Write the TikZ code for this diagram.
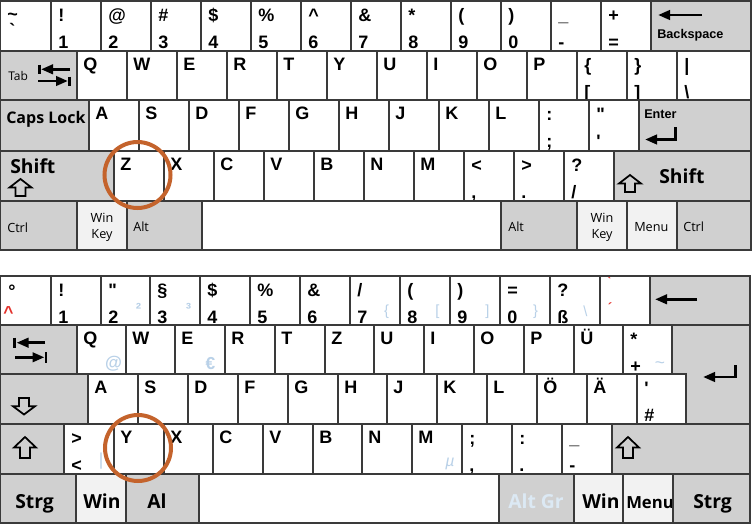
\documentclass[tikz,border=0pt]{standalone}
\usepackage{fontspec}
\setmainfont{Liberation Sans}
\newfontfamily\osans{Open Sans}
\usetikzlibrary{arrows.meta}
\definecolor{kline}{HTML}{3A3A3A}
\definecolor{kgray}{HTML}{D0D0D0}
\definecolor{klight}{HTML}{F2F2F2}
\definecolor{ring}{RGB}{196,99,44}
\definecolor{altblue}{HTML}{B9D1E8}
\definecolor{altgrtxt}{HTML}{DCE9F4}
\definecolor{deadred}{HTML}{E3312B}
\newcommand\KT[7]{\draw[kw] (#2,#4) rectangle (#3,#5);
  \node[ch] (#1a) at (#2+7,#4+20) {#6};
  \node[ch] (#1b) at (#2+7,#4+47) {#7};}
\newcommand\KL[6]{\draw[kw] (#2,#4) rectangle (#3,#5);
  \node[ch] (#1) at (#2+6,#4+19.5) {#6};}
\newcommand\UpArr[4]{% cx ytop ybot halfwidth
  \draw[line width=1.3pt,line join=miter] (#1,#2) -- (#1+#4,#2+0.5*#3-0.5*#2) -- (#1+5,#2+0.5*#3-0.5*#2) -- (#1+5,#3) -- (#1-5,#3) -- (#1-5,#2+0.5*#3-0.5*#2) -- (#1-#4,#2+0.5*#3-0.5*#2) -- cycle;}
\newcommand\DnArr[4]{% cx ytop ybot halfwidth
  \draw[line width=1.3pt,line join=miter] (#1,#3) -- (#1+#4,#2+0.5*#3-0.5*#2) -- (#1+5,#2+0.5*#3-0.5*#2) -- (#1+5,#2) -- (#1-5,#2) -- (#1-5,#2+0.5*#3-0.5*#2) -- (#1-#4,#2+0.5*#3-0.5*#2) -- cycle;}
\begin{document}
\begin{tikzpicture}[x=0.75pt,y=-0.75pt,
  kw/.style={draw=kline,fill=white,line width=0.8pt},
  kg/.style={draw=kline,fill=kgray,line width=0.8pt},
  kl/.style={draw=kline,fill=klight,line width=0.8pt},
  ch/.style={anchor=base west,inner sep=0pt,font=\bfseries\fontsize{13.5}{13.5}\selectfont},
  osb/.style={anchor=base west,inner sep=0pt,font=\osans\bfseries\fontsize{#1}{#1}\selectfont},
  osr/.style={anchor=base west,inner sep=0pt,font=\osans\fontsize{#1}{#1}\selectfont},
  osrc/.style={anchor=base,inner sep=0pt,font=\osans\fontsize{#1}{#1}\selectfont},
  arb/.style={anchor=base west,inner sep=0pt,font=\bfseries\fontsize{9.5}{9.5}\selectfont},
  alt/.style={text=altblue,inner sep=0pt,font=\bfseries\fontsize{12}{12}\selectfont},
  altl/.style={text=altblue,inner sep=0pt,font=\fontsize{11}{11}\selectfont},
  red/.style={text=deadred,inner sep=0pt,font=\bfseries\fontsize{#1}{#1}\selectfont},
  arr/.style={line width=2.2pt,line join=miter,-{Triangle[length=9pt,width=7pt]}},
  barl/.style={line width=2.2pt},
  ringst/.style={draw=ring,line width=3pt}]
\useasboundingbox (0,0) rectangle (753,525);
% ================= TOP KEYBOARD (US) =================
% row 1
\draw[kw] (0,1) rectangle (51,51);
\node[ch] (t0a) at (7,20) {\textasciitilde};
\node[ch] (t0b) at (9,36) {\textasciigrave};
\KT{t1}{51}{101}{1}{51}{!}{1}
\KT{t2}{101}{151}{1}{51}{@}{2}
\KT{t3}{151}{201}{1}{51}{\#}{3}
\KT{t4}{201}{251}{1}{51}{\$}{4}
\KT{t5}{251}{301}{1}{51}{\%}{5}
\KT{t6}{301}{351}{1}{51}{\textasciicircum}{6}
\KT{t7}{351}{401}{1}{51}{\&}{7}
\KT{t8}{401}{451}{1}{51}{*}{8}
\KT{t9}{451}{501}{1}{51}{(}{9}
\KT{t10}{501}{551}{1}{51}{)}{0}
\KT{t11}{551}{601}{1}{51}{\_}{-}
\KT{t12}{601}{651}{1}{51}{+}{=}
\draw[kg] (651,1) rectangle (751,51);
\coordinate (tbsA) at (702,15);
\coordinate (tbsB) at (658,15);
\draw[arr] (tbsA) -- (tbsB);
\node[arb] (tbs) at (657,38) {Backspace};
% row 2
\draw[kg] (0,51) rectangle (77,100);
\node[osr=9] (ttab) at (8,80) {Tab};
\coordinate (ttA) at (70,69.3); \coordinate (ttB) at (41,69.3);
\draw[arr] (ttA) -- (ttB);
\draw[barl] (39.5,64.5) -- (39.5,74);
\coordinate (ttC) at (38,81); \coordinate (ttD) at (68,81);
\draw[arr] (ttC) -- (ttD);
\draw[barl] (69.5,76.5) -- (69.5,86);
\foreach \x/\l [count=\i] in {77/Q,127/W,177/E,227/R,277/T,327/Y,377/U,427/I,477/O,527/P}
  {\KL{tq\i}{\x}{\x+50}{51}{100}{\l}}
\KT{t13}{577}{627}{51}{100}{\{}{[}
\KT{t14}{627}{677}{51}{100}{\}}{]}
\KT{t15}{677}{751}{51}{100}{\textbar}{\textbackslash}
% row 3
\draw[kg] (0,100) rectangle (89,151);
\node[osb=12] (tcaps) at (6,123) {Caps Lock};
\foreach \x/\l [count=\i] in {89/A,139/S,189/D,239/F,289/G,339/H,389/J,439/K,489/L}
  {\KL{ta\i}{\x}{\x+50}{100}{151}{\l}}
\KT{t16}{539}{589}{100}{151}{:}{;}
\KT{t17}{589}{639}{100}{151}{\textquotedbl}{\textquotesingle}
\draw[kg] (639,100) rectangle (751,151);
\node[arb] (tent) at (644,118) {Enter};
\coordinate (teA) at (675.5,127); \coordinate (teB) at (675.5,139.5); \coordinate (teC) at (645,139.5);
\draw[arr] (teA) -- (teB) -- (teC);
% row 4
\draw[kg] (0,151) rectangle (114,201);
\node[osb=14.5] (tshl) at (10,173) {Shift};
\UpArr{20.5}{179}{196}{11}
\foreach \x/\l [count=\i] in {114/Z,164/X,214/C,264/V,314/B,364/N,414/M}
  {\KL{tz\i}{\x}{\x+50}{151}{201}{\l}}
\KT{t18}{464}{514}{151}{201}{\textless}{,}
\KT{t19}{514}{564}{151}{201}{\textgreater}{.}
\KT{t20}{564}{614}{151}{201}{?}{/}
\draw[kg] (614,151) rectangle (751,201);
\node[osb=14.5] (tshr) at (659,183) {Shift};
\UpArr{630}{175}{192}{11}
% row 5
\draw[kg] (0,201) rectangle (77,250);
\node[osr=9.5] (tctl) at (7,232) {Ctrl};
\draw[kl] (77,201) rectangle (127,250);
\node[osrc=9.5] (twl1) at (102,222) {Win};
\node[osrc=9.5] (twl2) at (102,238) {Key};
\draw[kg] (127,201) rectangle (202,250);
\node[osr=9.5] (talt) at (133,231) {Alt};
\draw[kw] (202,201) rectangle (501,250);
\draw[kg] (501,201) rectangle (577,250);
\node[osr=9.5] (talr) at (508,231) {Alt};
\draw[kl] (577,201) rectangle (627,250);
\node[osrc=9.5] (twr1) at (602,222) {Win};
\node[osrc=9.5] (twr2) at (602,238) {Key};
\draw[kl] (627,201) rectangle (677,250);
\node[osr=9.5] (tmen) at (634,231) {Menu};
\draw[kg] (677,201) rectangle (751,250);
\node[osr=9.5] (tctr) at (683,231) {Ctrl};
\draw[draw=kline,line width=0.8pt] (0,1) rectangle (751,250);
\draw[ringst] (137.5,175) circle[radius=24.75pt];
% ================= BOTTOM KEYBOARD (DE) =================
% row 1
\draw[kw] (0,276) rectangle (51,325);
\node[ch] (b0a) at (8,297) {°};
\node[red=13] (b0b) at (8.5,313) {\textasciicircum};
\KT{b1}{51}{101}{276}{325}{!}{1}
\KT{b2}{101}{150}{276}{325}{\textquotedbl}{2}
\KT{b3}{150}{200}{276}{325}{§}{3}
\KT{b4}{200}{250}{276}{325}{\$}{4}
\KT{b5}{250}{300}{276}{325}{\%}{5}
\KT{b6}{300}{350}{276}{325}{\&}{6}
\KT{b7}{350}{400}{276}{325}{/}{7}
\KT{b8}{400}{450}{276}{325}{(}{8}
\KT{b9}{450}{500}{276}{325}{)}{9}
\KT{b10}{500}{550}{276}{325}{=}{0}
\KT{b11}{550}{600}{276}{325}{?}{ß}
\draw[kw] (600,276) rectangle (650,325);
\node[red=10,anchor=center] (b12a) at (609,282) {\textasciigrave};
\node[red=10,anchor=center] (b12b) at (610,307.5) {´};
\node[alt] (x2) at (138.5,309) {²};
\node[alt] (x3) at (188.5,309) {³};
\node[altl] (x7) at (386.5,311.5) {\{};
\node[altl] (x8) at (437.5,311.5) {[};
\node[altl] (x9) at (487.5,311.5) {]};
\node[altl] (x10) at (535.5,311.5) {\}};
\node[altl] (x11) at (585.5,311.5) {\textbackslash};
\draw[kg] (650,276) rectangle (750,325);
\coordinate (bbsA) at (697,299.3); \coordinate (bbsB) at (655,299.3);
\draw[arr] (bbsA) -- (bbsB);
% row 2
\draw[kg] (0,325) rectangle (77,374);
\coordinate (btA) at (45,342.7); \coordinate (btB) at (16.5,342.7);
\draw[arr] (btA) -- (btB);
\draw[barl] (14.5,337.5) -- (14.5,348);
\coordinate (btC) at (15,357.3); \coordinate (btD) at (44.5,357.3);
\draw[arr] (btC) -- (btD);
\draw[barl] (46,352) -- (46,362.5);
\foreach \x/\l [count=\i] in {77/Q,126/W,175/E,225/R,275/T,325/Z,374/U,424/I,474/O,524/P,574/Ü}
  {\KL{bq\i}{\x}{\x+50}{325}{374}{\l}}
\KT{b13}{623}{672}{325}{374}{*}{+}
\node[alt,font=\bfseries\fontsize{13}{13}\selectfont] (xat) at (113.5,364) {@};
\node[alt,font=\bfseries\fontsize{13}{13}\selectfont] (xeu) at (210.5,364) {€};
\node[altl,font=\fontsize{13}{13}\selectfont] (xti) at (660,365) {\textasciitilde};
\draw[kg] (672,325) -- (750,325) -- (750,424) -- (686,424) -- (686,374) -- (672,374) -- cycle;
\coordinate (beA) at (735.5,365); \coordinate (beB) at (735.5,377); \coordinate (beC) at (703,377);
\draw[arr] (beA) -- (beB) -- (beC);
% row 3
\draw[kg] (0,374) rectangle (88,424);
\DnArr{24}{398}{414.5}{11}
\foreach \x/\l [count=\i] in {88/A,138/S,188/D,238/F,288/G,338/H,387/J,437/K,487/L,537/Ö,587/Ä}
  {\KL{ba\i}{\x}{\x+50}{374}{424}{\l}}
\KT{b14}{637}{686}{374}{424}{\textquotesingle}{\#}
% row 4
\draw[kg] (0,424) rectangle (64,474);
\UpArr{25}{437}{458}{11}
\KT{b15}{64}{114}{424}{474}{\textgreater}{\textless}
\node[altl,font=\fontsize{13}{13}\selectfont] (xbar) at (101,461.5) {\textbar};
\foreach \x/\l [count=\i] in {114/Y,164/X,213/C,263/V,313/B,362/N,412/M}
  {\KL{by\i}{\x}{\x+50}{424}{474}{\l}}
\node[altl,font=\itshape\fontsize{12}{12}\selectfont] (xmu) at (450,464) {µ};
\KT{b16}{462}{512}{424}{474}{;}{,}
\KT{b17}{512}{562}{424}{474}{:}{.}
\KT{b18}{562}{612}{424}{474}{\_}{-}
\draw[kg] (612,424) rectangle (750,474);
\UpArr{628}{437}{458}{11}
% row 5
\draw[kg] (0,474) rectangle (76,523);
\node[osb=14.5] (bstl) at (15,508) {Strg};
\draw[kl] (76,474) rectangle (126,523);
\node[osb=14.5] (bwl) at (83,508) {Win};
\draw[kg] (126,474) rectangle (199,523);
\node[osb=14.5] (bal) at (147,508) {Al};
\draw[kw] (199,474) rectangle (499,523);
\draw[kg] (499,474) rectangle (574,523);
\node[osb=14.5,text=altgrtxt] (bagr) at (508,508) {Alt Gr};
\draw[kl] (574,474) rectangle (623,523);
\node[osb=14.5] (bwr) at (582,508) {Win};
\draw[kl] (623,474) rectangle (673,523);
\node[osb=12.5] (bmen) at (626,508) {Menu};
\draw[kg] (673,474) rectangle (750,523);
\node[osb=14.5] (bstr) at (693,508) {Strg};
\draw[draw=kline,line width=0.8pt] (0,276) rectangle (750,523);
\draw[ringst] (138,448) circle[radius=24.75pt];
\end{tikzpicture}
\end{document}
